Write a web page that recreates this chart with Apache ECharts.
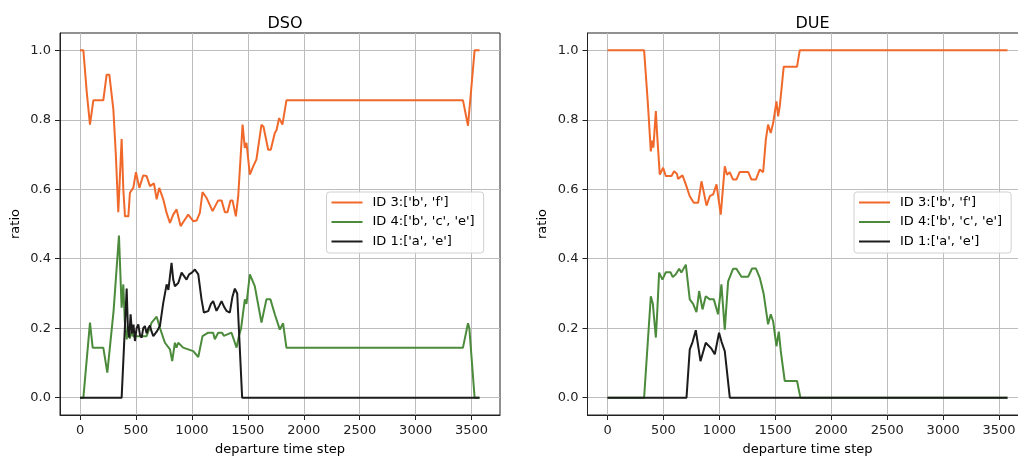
<!DOCTYPE html>
<html>
<head>
<meta charset="utf-8">
<title>DSO / DUE route ratios</title>
<script src="https://cdn.jsdelivr.net/npm/echarts@6/dist/echarts.min.js"></script>
<style>
  html, body { margin: 0; padding: 0; background: #fff; overflow: hidden; width: 1018px; height: 459px; }
  /* drawing surface is a little wider than the page so the right panel runs off the edge */
  #chart { width: 1032px; height: 459px; }
</style>
</head>
<body>
<div id="chart"></div>
<script>
// Panel titles and route names
const panelTitles = ['DSO', 'DUE'];
const routeNames = ["ID 3:['b', 'f']", "ID 4:['b', 'c', 'e']", "ID 1:['a', 'e']"];

// Axis ticks
const xTicks = [0, 500, 1000, 1500, 2000, 2500, 3000, 3500];
const yTicks = [0.0, 0.2, 0.4, 0.6, 0.8, 1.0];

// DSO: [departure time step, ratio]
const dsoId3 = [[0,1.0],[30,1.0],[60,0.88],[89,0.786],[119,0.856],[208,0.856],[238,0.93],[262,0.93],[298,0.83],[320,0.7],[342,0.534],[372,0.745],[387,0.6],[402,0.522],[432,0.522],[446,0.59],[476,0.604],[500,0.649],[530,0.604],[565,0.64],[595,0.638],[625,0.609],[661,0.617],[685,0.571],[708,0.604],[744,0.571],[774,0.532],[804,0.503],[833,0.527],[863,0.542],[899,0.494],[938,0.513],[967,0.527],[1012,0.508],[1042,0.51],[1071,0.532],[1095,0.592],[1131,0.575],[1185,0.537],[1235,0.568],[1265,0.568],[1295,0.534],[1318,0.534],[1345,0.568],[1363,0.568],[1393,0.522],[1414,0.58],[1453,0.786],[1473,0.719],[1488,0.734],[1518,0.642],[1548,0.666],[1577,0.686],[1622,0.786],[1640,0.78],[1682,0.714],[1705,0.714],[1741,0.762],[1756,0.77],[1780,0.805],[1809,0.786],[1845,0.856],[3423,0.856],[3468,0.783],[3527,1.0],[3571,1.0]];
const dsoId4 = [[0,0],[30,0],[89,0.216],[113,0.144],[208,0.144],[244,0.072],[300,0.25],[348,0.467],[372,0.259],[387,0.326],[400,0.22],[417,0.168],[430,0.2],[445,0.17],[460,0.19],[475,0.177],[595,0.177],[640,0.216],[685,0.233],[714,0.201],[759,0.158],[804,0.139],[824,0.105],[848,0.158],[862,0.144],[878,0.158],[922,0.144],[1012,0.134],[1057,0.117],[1095,0.177],[1146,0.187],[1190,0.187],[1205,0.168],[1235,0.187],[1270,0.187],[1285,0.178],[1354,0.187],[1399,0.144],[1420,0.177],[1440,0.2],[1473,0.283],[1488,0.27],[1518,0.355],[1562,0.321],[1622,0.216],[1666,0.283],[1702,0.283],[1741,0.24],[1786,0.196],[1815,0.214],[1845,0.144],[3423,0.144],[3468,0.214],[3480,0.2],[3527,0],[3571,0]];
const dsoId1 = [[0,0],[372,0],[417,0.314],[428,0.2],[440,0.173],[452,0.24],[465,0.185],[478,0.21],[491,0.163],[506,0.2],[521,0.211],[536,0.18],[551,0.173],[565,0.2],[580,0.206],[595,0.185],[610,0.2],[625,0.208],[640,0.19],[655,0.177],[685,0.19],[714,0.206],[744,0.273],[774,0.326],[790,0.31],[818,0.388],[833,0.34],[848,0.321],[878,0.33],[908,0.36],[930,0.35],[952,0.34],[975,0.355],[1000,0.36],[1027,0.369],[1057,0.355],[1086,0.283],[1107,0.245],[1146,0.249],[1170,0.27],[1190,0.278],[1220,0.25],[1245,0.265],[1265,0.278],[1290,0.26],[1309,0.25],[1339,0.245],[1362,0.29],[1384,0.314],[1405,0.3],[1449,0],[3571,0]];

// DUE: [departure time step, ratio]
const dueId3 = [[0,1],[327,1],[360,0.85],[387,0.709],[400,0.74],[410,0.72],[432,0.825],[445,0.75],[467,0.642],[497,0.662],[521,0.638],[572,0.638],[595,0.652],[620,0.645],[630,0.63],[646,0.628],[670,0.64],[700,0.614],[735,0.58],[771,0.561],[810,0.561],[840,0.623],[855,0.62],[885,0.553],[914,0.58],[944,0.585],[974,0.614],[1012,0.527],[1048,0.666],[1068,0.642],[1092,0.649],[1122,0.628],[1152,0.628],[1182,0.65],[1257,0.65],[1287,0.628],[1326,0.628],[1361,0.657],[1391,0.649],[1415,0.743],[1435,0.786],[1459,0.762],[1480,0.79],[1510,0.853],[1525,0.81],[1540,0.84],[1575,0.953],[1694,0.953],[1718,1],[3575,1]];
const dueId4 = [[0,0],[327,0],[387,0.292],[405,0.27],[432,0.173],[445,0.25],[461,0.36],[491,0.34],[521,0.361],[563,0.361],[583,0.347],[610,0.355],[640,0.371],[660,0.36],[700,0.383],[735,0.283],[765,0.27],[795,0.246],[819,0.307],[849,0.254],[878,0.292],[914,0.283],[950,0.283],[988,0.24],[1018,0.326],[1048,0.196],[1078,0.335],[1122,0.371],[1152,0.371],[1197,0.348],[1257,0.348],[1292,0.372],[1326,0.372],[1361,0.345],[1395,0.3],[1435,0.211],[1459,0.24],[1480,0.22],[1510,0.148],[1531,0.19],[1550,0.13],[1584,0.048],[1694,0.048],[1724,0],[3575,0]];
const dueId1 = [[0,0],[706,0],[735,0.139],[760,0.16],[789,0.194],[831,0.105],[878,0.158],[929,0.141],[959,0.125],[997,0.187],[1020,0.16],[1048,0.134],[1093,0],[3575,0]];

const routeColors = ['#f0692b', '#4b8b3b', '#1c1c1c'];
const FONT = 'DejaVu Sans';

const chart = echarts.init(document.getElementById('chart'), null, { renderer: 'canvas' });

const gridBoxes = [
  { left: 60, top: 33, width: 440, height: 382 },
  { left: 587.5, top: 33, width: 440, height: 382 }
];

function xAxisFor(i) {
  return {
    type: 'value', gridIndex: i, min: -179, max: 3754,
    name: 'departure time step', nameLocation: 'middle', nameGap: 28,
    nameTextStyle: { fontFamily: FONT, fontSize: 13, color: '#000' },
    axisLine: { show: true, onZero: false, lineStyle: { color: '#222', width: 1 } },
    axisTick: { show: true, length: 5, customValues: xTicks, lineStyle: { color: '#222' } },
    axisLabel: { customValues: xTicks, margin: 9, fontFamily: FONT, fontSize: 13, color: '#222',
      formatter: v => String(v) },
    splitLine: { show: true, lineStyle: { color: '#bdbdbd', width: 1 } }
  };
}
function yAxisFor(i) {
  return {
    type: 'value', gridIndex: i, min: -0.05, max: 1.05,
    name: 'ratio', nameLocation: 'middle', nameGap: 38, nameRotate: 90,
    nameTextStyle: { fontFamily: FONT, fontSize: 13, color: '#000' },
    axisLine: { show: true, onZero: false, lineStyle: { color: '#222', width: 1 } },
    axisTick: { show: true, length: 5, customValues: yTicks, lineStyle: { color: '#222' } },
    axisLabel: { customValues: yTicks, margin: 9, fontFamily: FONT, fontSize: 13, color: '#222',
      formatter: v => v.toFixed(1) },
    splitLine: { show: true, lineStyle: { color: '#bdbdbd', width: 1 } }
  };
}

function lineSeries(name, data, colorIdx, gridIdx) {
  return {
    type: 'line', name: name, data: data,
    xAxisIndex: gridIdx, yAxisIndex: gridIdx,
    showSymbol: false, symbol: 'none',
    color: routeColors[colorIdx],
    lineStyle: { width: 2, color: routeColors[colorIdx] },
    animation: false
  };
}

function legendAt(left) {
  return {
    left: left, top: 192, orient: 'vertical',
    data: routeNames,
    icon: 'rect', itemWidth: 31, itemHeight: 2, itemGap: 6.5,
    padding: [4, 9, 5, 5],
    backgroundColor: 'rgba(255,255,255,0.85)',
    borderColor: '#d0d0d0', borderWidth: 1, borderRadius: 3,
    textStyle: { fontFamily: FONT, fontSize: 13, color: '#000', padding: [0, 0, 0, 5] },
    selectedMode: false
  };
}

chart.setOption({
  backgroundColor: '#fff',
  animation: false,
  title: panelTitles.map((t, i) => ({
    text: t,
    left: gridBoxes[i].left + gridBoxes[i].width / 2,
    textAlign: 'center',
    top: 11,
    textStyle: { fontFamily: FONT, fontSize: 16, fontWeight: 'normal', color: '#000' }
  })),
  grid: gridBoxes.map(g => Object.assign({
    show: true, borderColor: '#222', borderWidth: 1, backgroundColor: 'transparent',
    containLabel: false, outerBoundsMode: 'none'
  }, g)),
  xAxis: [xAxisFor(0), xAxisFor(1)],
  yAxis: [yAxisFor(0), yAxisFor(1)],
  legend: [legendAt(326.5), legendAt(854)],
  series: [
    lineSeries(routeNames[0], dsoId3, 0, 0),
    lineSeries(routeNames[1], dsoId4, 1, 0),
    lineSeries(routeNames[2], dsoId1, 2, 0),
    lineSeries(routeNames[0], dueId3, 0, 1),
    lineSeries(routeNames[1], dueId4, 1, 1),
    lineSeries(routeNames[2], dueId1, 2, 1)
  ]
});
</script>
</body>
</html>
